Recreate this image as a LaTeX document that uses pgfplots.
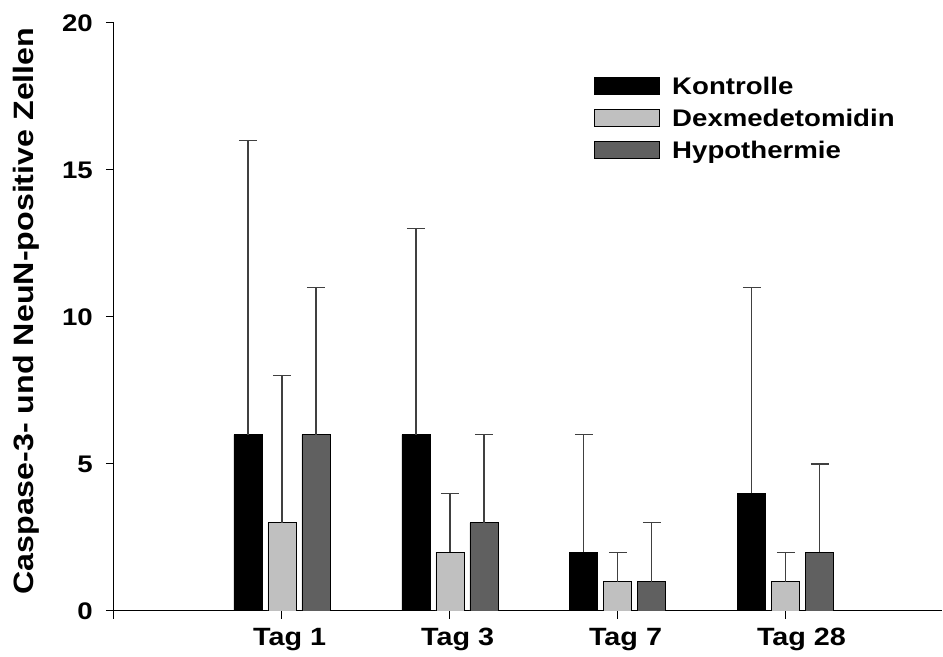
\documentclass[border=0pt]{standalone}
\usepackage{fontspec}
\setmainfont{Liberation Sans}[FakeStretch=1.15]
\usepackage{pgfplots}
\pgfplotsset{compat=1.18}
\definecolor{lightbar}{HTML}{C0C0C0}
\definecolor{darkbar}{HTML}{606060}
\definecolor{errcol}{HTML}{404040}
\begin{document}
\begin{tikzpicture}
\begin{axis}[name=ax,
  scale only axis, width=828pt, height=588pt,
  xmin=0, xmax=4.93, ymin=0, ymax=20,
  axis lines=left, axis line style={line width=1pt, -},
  ybar=6pt, bar width=28pt,
  xtick={0,1,2,3,4}, xticklabels={,Tag 1,Tag 3,Tag 7,Tag 28},
  ytick={0,5,10,15,20},
  tick align=outside, major tick length=8pt, tick style={line width=1pt, black},
  /pgf/number format/assume math mode=true,
  yticklabel style={font=\bfseries\fontsize{24}{24}\selectfont, inner sep=0pt, anchor=east, xshift=-13pt},
  xticklabel style={font=\bfseries\fontsize{25}{25}\selectfont, inner sep=0pt, anchor=north west, xshift=-29pt, yshift=-9pt},
  ylabel={Caspase-3- und NeuN-positive Zellen},
  every axis y label/.style={at={(axis description cs:-0.106,0.51)}, rotate=90, anchor=center,
    font=\bfseries\fontsize{28}{28}\selectfont},
  error bars/y dir=plus, error bars/y explicit,
  error bars/error bar style={line width=1.2pt, color=errcol},
  error bars/error mark options={rotate=90, mark size=9pt, line width=1.2pt, color=errcol},
  legend image code/.code={\draw[#1, line width=0.8pt] (0pt,-8.5pt) rectangle (65pt,8.5pt);},
  legend style={at={(0.58,0.912)}, anchor=north west, draw=none, fill=none,
    font=\bfseries\fontsize{24}{24}\selectfont, row sep=9pt, inner sep=0pt,
    nodes={inner sep=2pt}, cells={anchor=west}, column sep=10pt},
]
\addplot[fill=black, draw=black, line width=0.8pt] coordinates {(1,6) +- (0,10) (2,6) +- (0,7) (3,2) +- (0,4) (4,4) +- (0,7)};
\addplot[fill=lightbar, draw=black, line width=0.8pt] coordinates {(1,3) +- (0,5) (2,2) +- (0,2) (3,1) +- (0,1) (4,1) +- (0,1)};
\addplot[fill=darkbar, draw=black, line width=0.8pt] coordinates {(1,6) +- (0,5) (2,3) +- (0,3) (3,1) +- (0,2) (4,2) +- (0,3)};
\legend{Kontrolle,Dexmedetomidin,Hypothermie}
\end{axis}
\pgfresetboundingbox
\path[use as bounding box] ([shift={(-114pt,-46pt)}]ax.south west) rectangle ([shift={(1pt,23pt)}]ax.north east);
\end{tikzpicture}
\end{document}
